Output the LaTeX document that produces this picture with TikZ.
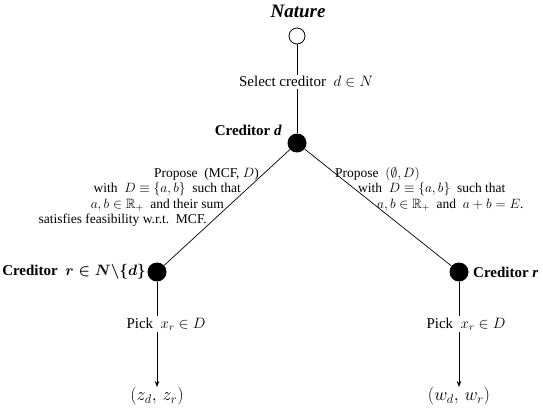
\RequirePackage{fix-cm}
\documentclass[tikz,border=0pt]{standalone}
\usepackage{amsmath,amssymb}
\usepackage{fontspec}
\setmainfont{Liberation Serif}
\usetikzlibrary{arrows.meta}

\begin{document}
\begin{tikzpicture}[x=1pt,y=-1pt,
  chance/.style={circle,draw,fill=white,minimum size=16pt,inner sep=0pt,line width=0.8pt},
  decision/.style={circle,fill=black,minimum size=19pt,inner sep=0pt},
  edge/.style={line width=0.7pt},
  tip/.style={-{Stealth[length=6pt,width=4.5pt]}},
  move/.style={font=\fontsize{15}{17}\selectfont,fill=white,inner sep=1.5pt},
  offer/.style={font=\fontsize{13.5}{15.5}\selectfont,inner sep=0pt,text height=9.5pt,text depth=3pt},
  player/.style={font=\fontsize{15}{17}\selectfont\bfseries,inner sep=0pt},
  payoff/.style={font=\fontsize{18}{20}\selectfont,inner sep=0pt}
]
\useasboundingbox (0,0) rectangle (543,409);

% decision nodes
\node[chance]   (nat) at (297,36)  {};
\node[decision] (cd)  at (297,143) {};
\node[decision] (cl)  at (157,272) {};
\node[decision] (cr)  at (459,272) {};

% terminal payoffs
\node[payoff,anchor=north] (zl) at (157,387) {$(z_d,\,z_r)$};
\node[payoff,anchor=north] (wr) at (459,387) {$(w_d,\,w_r)$};

% branches
\draw[edge] (nat) -- (cd);
\draw[edge] (cd) -- (cl);
\draw[edge] (cd) -- (cr);
\draw[edge,tip] (cl) -- (zl.north);
\draw[edge,tip] (cr) -- (wr.north);

% player labels
\node[font=\fontsize{19}{21}\selectfont\bfseries\itshape,inner sep=0pt,anchor=base] (natlbl) at (298,18) {Nature};
\node[player,anchor=east] (pd) at (282,130) {Creditor \textit{d}};
\node[player,anchor=east] (pl) at (146,272) {Creditor \ $\boldsymbol{r\in N\backslash\{d\}}$};
\node[player,anchor=west] (pr) at (473,272) {Creditor \textit{r}};

% move labels
\node[move] (sel) at (306,82) {Select creditor\ \ $d\in N$};
\node[move] (pkl) at (166,324) {Pick\ \ $x_r\in D$};
\node[move] (pkr) at (466,324) {Pick\ \ $x_r\in D$};

% offer to the left
\node[offer,anchor=base east] (ol1) at (259,177) {Propose\ \ (MCF, $D$)};
\node[offer,anchor=base east] (ol2) at (241,192.5) {with\ \ $D\equiv\{a,b\}$\ \ such that};
\node[offer,anchor=base east] (ol3) at (224,208) {$a,b\in\mathbb{R}_+$\ \ and their sum};
\node[offer,anchor=base east] (ol4) at (207,223.5) {satisfies feasibility w.r.t.\ \ MCF.};

% offer to the right
\node[offer,anchor=base west] (or1) at (335,177) {Propose\ \ $(\emptyset,D)$};
\node[offer,anchor=base west] (or2) at (358,192.5) {with\ \ $D\equiv\{a,b\}$\ \ such that};
\node[offer,anchor=base west] (or3) at (377,208) {$a,b\in\mathbb{R}_+$\ \ and\ \ $a+b=E$.};
\end{tikzpicture}
\end{document}
